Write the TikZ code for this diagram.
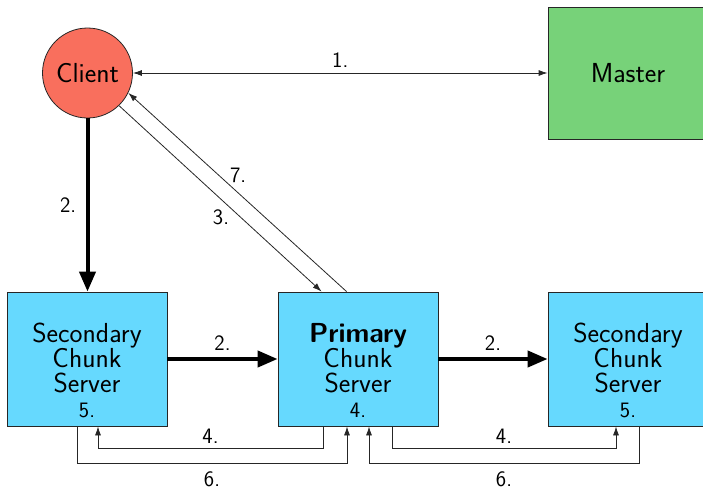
\documentclass[tikz,border=0pt]{standalone}
\usetikzlibrary{arrows.meta,calc}
\definecolor{clientred}{HTML}{F96F5D}
\definecolor{mastergreen}{HTML}{77D279}
\definecolor{chunkcyan}{HTML}{66D9FE}
\newcommand{\bigtxt}{\sffamily\fontsize{27.5}{25}\selectfont}
\newcommand{\lbltxt}{\sffamily\fontsize{22}{22}\selectfont}
\begin{document}
\begin{tikzpicture}[x=1pt,y=-1pt,
  block/.style={draw=black!85, line width=0.8pt, minimum width=160pt, minimum height=134pt, inner sep=0pt},
  boxtext/.style={align=center, font=\bigtxt, inner sep=0pt},
  thinarrow/.style={line width=0.8pt, draw=black!85, -{Latex[length=9pt,width=6pt]}},
  thickarrow/.style={line width=4pt, -{Triangle[length=20pt,width=16pt]}},
  lbl/.style={font=\lbltxt}]
\useasboundingbox (0,0) rectangle (703,490);
% nodes
\node[circle, draw=black!85, line width=0.8pt, fill=clientred, minimum size=90pt, inner sep=0pt, font=\bigtxt] (client) at (87.5,73) {Client};
\node[block, fill=mastergreen, minimum height=132pt, font=\bigtxt] (master) at (628,73) {Master};
\node[block, fill=chunkcyan] (sec1) at (87,359) {};
\node[block, fill=chunkcyan] (prim) at (358,359) {};
\node[block, fill=chunkcyan] (sec2) at (628,359) {};
\node[boxtext] (sec1t) at ([yshift=-11pt]sec1.center) {Secondary\\Chunk\\Server\\{\lbltxt 5.}};
\node[boxtext] (primt) at ([yshift=-11pt]prim.center) {\textbf{Primary}\\Chunk\\Server\\{\lbltxt 4.}};
\node[boxtext] (sec2t) at ([yshift=-11pt]sec2.center) {Secondary\\Chunk\\Server\\{\lbltxt 5.}};
% arrow 1
\draw[thinarrow, {Latex[length=9pt,width=6pt]}-{Latex[length=9pt,width=6pt]}] (client) -- (master) node[midway, above=2pt, lbl] {1.};
% arrows 2
\draw[thickarrow] (client.south) -- (client.south |- sec1.north) node[midway, left=6pt, lbl] {2.};
\draw[thickarrow] (sec1) -- (prim) node[midway, above=3pt, lbl] {2.};
\draw[thickarrow] (prim) -- (sec2) node[midway, above=3pt, lbl] {2.};
% arrows 3 and 7
\draw[thinarrow] (client.-46) -- ([xshift=44pt]prim.north west) node[pos=0.55, anchor=north east, inner sep=1pt, lbl] {3.};
\draw[thinarrow] ([xshift=69pt]prim.north west) -- (client.-26) node[pos=0.54, anchor=south west, inner sep=1pt, lbl] {7.};
% arrows 4 and 6
\draw[thinarrow] ([xshift=-35pt]prim.south) -- ++(0,22) -| ([xshift=11pt]sec1.south) node[pos=0.25, above=1pt, lbl] {4.};
\draw[thinarrow] ([xshift=-10pt]sec1.south) -- ++(0,37) -| ([xshift=-11pt]prim.south) node[pos=0.25, below=5pt, lbl] {6.};
\draw[thinarrow] ([xshift=34pt]prim.south) -- ++(0,22) -| ([xshift=-12pt]sec2.south) node[pos=0.25, above=1pt, lbl] {4.};
\draw[thinarrow] ([xshift=11pt]sec2.south) -- ++(0,37) -| ([xshift=11pt]prim.south) node[pos=0.25, below=5pt, lbl] {6.};
\end{tikzpicture}
\end{document}
